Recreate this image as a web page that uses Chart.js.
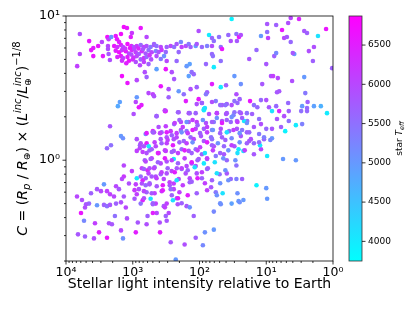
<!DOCTYPE html>
<html>
<head>
<meta charset="utf-8">
<script src="https://cdn.jsdelivr.net/npm/chart.js@4.4.1/dist/chart.umd.min.js"></script>
<style>
  html, body { margin: 0; padding: 0; background: #fff; }
</style>
</head>
<body>
<canvas id="myChart" width="416" height="312"></canvas>
<script>
// axis ticks
const xMajor = [10000, 1000, 100, 10, 1]
const xLabels = ['10⁴', '10³', '10²', '10¹', '10⁰']
const yMajor = [1, 10]
const yLabels = ['10⁰', '10¹']
const teffTicks = [4000, 4500, 5000, 5500, 6000, 6500]
const teffMin = 3750
const teffMax = 6870

// points: [light intensity, C, star Teff]
const topBand = [
  [6200,7.5,5900],[6200,5.45,6000],[6800,4.49,6100],[4500,6.7,6600],[3900,6.0,6500],[4200,5.8,6600],[3900,5.27,6600],[3300,6.2,6600],[2900,6.6,6000],[2800,5.27,6500],
  [2400,7.15,6700],[2300,6.9,6100],[2100,7.15,5000],[2350,6.2,6000],[2350,5.9,5900],[2300,5.45,5800],[2200,4.95,5900],[1800,7.26,6600],[1720,6.9,6600],[1360,8.38,6700],
  [1220,8.25,6600],[1500,7.5,6700],[1030,7.62,6200],[1070,7.15,6500],[760,8.25,6600],[620,7.15,6000],
  [1900,6.2,6600],[1700,6.1,6300],[1500,6.3,6500],[1400,6.1,6000],[1200,6.4,6700],[1050,6.2,6400],[970,6.1,5800],[870,6.2,6200],[760,6.3,5600],[680,6.1,6100],[620,6.2,5900],[540,6.1,5400],[480,6.3,6000],
  [1800,5.75,6500],[1600,5.6,6700],[1450,5.8,6200],[1270,5.7,6600],[1140,5.5,6000],[1030,5.8,6400],[900,5.6,6100],[810,5.45,5700],[730,5.7,6300],[640,5.5,5800],[580,5.8,5500],[520,5.6,6000],
  [1700,5.2,6400],[1500,5.27,6600],[1400,5.1,6100],[1200,5.2,6500],[1050,5.4,5900],[970,5.15,6300],[870,5.27,6000],[760,5.0,5700],[680,5.1,6200],[620,5.2,5600],[530,5.0,5900],
  [1450,4.9,6300],[1140,4.9,6600],[900,4.8,5900],[680,4.8,6100],[580,4.64,5700],
  [1600,6.6,6500],[1300,5.95,6200],[1100,6.0,6600],[950,5.9,6000],[820,5.95,6400],[700,5.9,5800],[1250,4.7,6500],[1000,5.0,6300],[780,4.55,6000],[560,5.35,6200]
]

const upperScatter = [
  [1450,3.83,6700],[1200,3.43,6600],[870,3.59,6000],[660,4.08,5900],[620,3.77,5700],[580,2.92,6000],[500,2.87,6100],[870,2.73,5000],[900,2.53,6000],[810,2.33,6600],
  [1560,2.53,4900],[1670,2.37,4800],[970,2.09,5900],[2190,1.72,5800],[1500,1.47,5000],[1400,1.42,5100],[870,1.40,5900],[640,1.52,5100],[500,1.59,6500],
  [33,9.53,3900],[103,7.87,5900],[72,7.38,4000],[65,7.04,5600],[51,7.15,5500],[37,7.38,5600],[34,6.71,5900],[28,7.5,5500],[25.6,7.15,6600],[24,7.38,5900],[27.5,6.71,5800],
  [480,6.39,5700],[440,6.19,5500],[380,6.1,6000],[450,5.71,5300],[410,5.62,5800],[370,5.81,6200],[320,5.62,5600],[340,5.27,5100],[440,5.27,5900],[380,5.03,5400],
  [310,6.1,5700],[270,6.19,6000],[240,6.1,5500],[220,6.39,5800],[190,6.6,5200],[185,6.1,6100],[205,5.62,5600],[160,6.19,5900],[145,6.39,5400],[136,6.1,5700],
  [114,6.19,5000],[110,6.39,5800],[92,6.1,5600],[77,6.19,5300],[65,6.19,5900],[48,6.1,5500],
  [310,4.87,6000],[320,4.28,6600],[440,4.28,4900],[220,4.87,5600],[156,4.49,5000],[140,4.64,4900],[131,4.08,5500],[122,3.95,5600],[145,3.83,4900],[80,4.64,5600],
  [61,4.42,4000],[48,4.87,5500],[46,5.9,6600],[65,5.45,5600],[63,5.27,5500],[61,6.71,5500],[30,3.83,5000],[24,3.37,5100],[260,4.08,5900],[240,3.65,5800],
  [380,3.26,6600],[290,3.11,5900],[205,3.01,5000],[172,2.87,5500],[136,3.11,5900],[110,3.21,5700],[77,2.96,5700],[80,2.87,5400],[65,3.37,6500],[48,3.21,4000],
  [40,3.31,5700],[57,2.57,5400],[46,2.41,5800],[39,2.45,5700],[30,2.57,5500],[28,2.87,5900],[25,2.65,5700],[103,2.65,6600],[110,2.45,5900],[92,2.49,5700],
  [86,2.26,4000],[160,2.57,6500],[205,2.15,5800],[320,2.19,6500],[290,2.73,5700],[480,2.78,5900]
]

const rightScatter = [
  [4.3,9.68,6000],[3.23,9.53,6400],[9.7,8.8,5800],[7.1,8.66,5700],[4.7,8.94,5900],[5.8,8.0,6600],[2.7,7.87,5800],[2.45,7.62,5700],[1.27,8.12,6600],[12,7.26,5000],
  [9.7,7.74,5500],[9.4,7.04,6100],[5.4,7.04,6000],[4.9,7.15,5800],[4.3,6.6,5600],[1.68,7.26,4100],[14,5.81,5600],[7.6,5.27,5700],[7.1,5.53,5200],[3.8,5.45,5000],
  [2.3,5.71,5900],[1.93,6.1,5900],[2.0,4.87,5700],[18,5.03,5800],[10,4.64,5800],[8.5,3.83,5900],[7.9,3.83,6100],[4.1,3.54,5900],[2.7,3.77,5000],[11.5,3.37,5800],
  [6.9,2.96,5800],[6.4,3.01,5800],[2.6,2.92,5400],[1.03,4.35,5700],[17.5,2.57,6600],[12,2.61,5600],[10,2.61,5900],[4.7,2.49,5600],[2.4,2.53,5700],[2.9,2.37,5000],
  [1.93,2.37,4900],[1.52,2.37,4700],[1.23,2.12,4000],[2.45,2.19,5600],[3.0,2.19,5500],[4.6,2.19,5700],[6.4,2.19,6400],[8.2,2.19,4100],[15.3,2.41,5500],[13.6,2.33,5600],
  [9.1,2.33,5800],[7.1,2.37,5600],[5.4,2.02,5900],[6.9,1.93,5800],[4.6,1.87,5500],[3.6,1.75,4000],[2.9,1.78,5300],[6.0,1.70,5700],[5.2,1.59,3900],[8.2,1.65,5800],
  [10,1.65,5600],[12,1.78,5900],[12.8,1.93,5500],[16.3,2.09,5700],[19.3,1.87,5500],[15.3,1.70,5800],[18,1.56,5600],[12.8,1.52,5400],[10.8,1.40,5700],[17,1.40,5900],
  [6.7,3.71,6000],[4.0,5.53,5800],[2.45,2.30,5600],
  [3.6,1.0,5000],[5.6,1.02,5000],[14,0.67,3900],[10,0.64,5000],[9.7,0.54,5000],[15.3,1.10,5800],[9.7,1.07,4000],[12,1.19,6000],[12.4,1.27,4000],[12.8,1.33,5500],
  [15.3,1.31,5600],[18,1.36,5800],[8.2,1.42,5000],[8.7,1.38,5200],[10.8,1.44,5300]
]

const mainCluster = [
  [440,2.02,5800],[330,2.19,6500],[145,2.12,5900],[114,2.12,5700],[86,2.22,4000],[72,2.09,5900],[55,2.12,5600],[40,2.09,5800],[30,2.15,5500],[24,2.12,5900],
  [21.5,1.87,4000],[27.5,1.87,5700],[34,1.84,5600],[46,1.87,5900],[61,1.84,5400],[80,1.81,5900],[110,1.84,6100],[145,1.84,5800],[190,1.84,6000],[240,1.78,5600],
  [320,1.72,6100],[410,1.70,5900],[480,1.56,6000],[370,1.56,5700],[270,1.59,6200],[190,1.62,5800],[156,1.59,5500],[114,1.65,6000],[86,1.65,5700],[65,1.62,5300],
  [48,1.65,5900],[36,1.59,5500],[27.5,1.65,5800],[23,1.62,5400],[310,1.44,5900],[220,1.44,6000],[136,1.44,5600],[95,1.47,5800],[67,1.44,5500],[46,1.44,5700],
  [33,1.42,5200],[24,1.47,5800],
  [390,0.316,6500],[270,0.27,5800],[167,0.26,5900],[227,0.205,5000],[114,0.29,5700],[89,0.257,5200],[83,0.316,5100],[61,0.33,5000],[122,0.41,5700],[156,0.48,5800],
  [61,0.44,5200],[48,0.495,5100],[33,0.50,4900],[26,0.52,5000],[22,0.53,5000],[45,0.59,4100],[57,0.60,5400],[67,0.65,5800],[92,0.75,5700],[77,0.87,5600],
  [86,0.95,4000],[114,0.91,5800],[110,0.81,5900],[140,0.75,6000],[131,0.71,5700],[205,0.74,5900],[243,0.69,6100],[279,0.67,5800],[243,0.63,6000],[219,0.545,5700],
  [212,0.495,5900],[310,0.50,6100],[343,0.48,5800],[289,0.43,6000],[320,0.41,5700],[310,0.38,5800],[452,0.50,6100],[437,0.43,6000],[394,0.37,5900],[270,0.63,5600],
  [368,0.61,6200],[437,0.66,5800],[343,0.74,6000],[381,0.80,5700],[310,0.81,5900],[261,0.84,6100],[219,0.88,5800],[185,0.87,5500],[161,0.81,5900],[156,0.91,6000],
  [131,0.95,5700],[103,1.02,5800],[77,1.02,5600],[57,1.07,5400],[43,1.10,5800],[39,1.0,5600],[50,0.80,5500],[39,0.81,5800],[34,0.74,5600],[28,0.92,5500],
  [28,0.74,5300],[23,0.74,5700],[26,1.19,4000],[22,1.16,4100],[30,1.25,5800],[43,1.25,5600],[61,1.25,5900],[65,1.40,5500],[86,1.36,5800],[122,1.40,6000],
  [172,1.36,5700],[243,1.40,5900],[310,1.31,6100],[381,1.40,5800],[452,1.25,6000],[408,1.12,5900],[320,1.16,6200],[243,1.16,5800],[185,1.19,5600],[145,1.16,5900],
  [114,1.19,5500],[92,1.10,5700],[243,1.02,4000],[310,0.98,5900],[381,0.95,6000],[452,0.77,5900]
]

const denseCluster = [
  [740,2.41,6500],[330,2.22,6100],[440,2.02,5700],[210,2.15,5700],[140,2.12,5700],[92,2.49,5700],[83,2.30,4100],[65,2.53,5900],[49,2.41,5600],[39,2.12,5800],
  [31,2.05,5300],[25,2.15,5700],[19.5,2.12,5500],[55,2.12,6100],[41,2.41,5500],[33,2.41,5900],[27,2.49,5600],
  [235,1.81,6100],[200,1.90,5700],[178,1.70,6100],[156,1.84,5100],[127,1.90,6100],[107,1.75,5700],[89,1.90,5100],[77,1.70,6100],[65,1.84,5700],[55,1.96,5100],
  [46,1.81,6500],[39,1.90,5700],[33,1.99,5100],[27,1.84,6100],[23,1.96,5700],[19.5,1.81,5100],
  [620,1.54,6500],[500,1.56,5700],[390,1.54,6100],[310,1.56,6500],[260,1.49,5700],[220,1.54,6100],[185,1.56,5100],[150,1.54,6100],[127,1.62,6500],[98,1.54,5700],
  [77,1.56,6100],[63,1.62,5100],[49,1.54,5700],[39,1.56,4100],[31,1.62,6100],[25,1.54,5100],[19.5,1.56,5700],
  [780,1.27,5700],[620,1.31,6500],[470,1.33,6100],[370,1.31,5700],[300,1.38,6100],[250,1.27,6500],[200,1.33,5700],[156,1.31,6100],[127,1.33,5100],[98,1.23,6100],
  [77,1.33,6500],[65,1.27,5700],[53,1.31,5100],[41,1.38,5700],[33,1.27,6100],[25,1.33,5100],[19.5,1.31,5700],
  [710,1.14,6100],[560,1.17,5700],[420,1.12,6500],[330,1.17,6100],[260,1.14,5700],[210,1.12,6100],[167,1.17,6500],[131,1.12,5700],[107,1.17,6100],[83,1.12,4100],
  [63,1.17,6100],[49,1.12,5700],[37,1.17,5100],[27,1.12,4100],[21,1.17,6100],
  [660,1.0,5700],[520,1.03,6100],[420,0.968,5700],[330,1.03,6500],[260,1.0,6100],[210,0.953,5700],[167,1.03,6100],[131,0.968,6500],[107,1.0,5700],[77,1.03,6100],
  [59,0.968,4100],[44,1.03,5100],[29,1.0,5100],
  [730,0.88,6100],[600,0.852,6500],[470,0.894,5700],[370,0.825,6100],[300,0.88,5700],[235,0.825,6500],[185,0.88,6100],[150,0.852,5700],[118,0.894,4100],[92,0.825,6100],
  [75,0.88,5700],[55,0.812,4100],[41,0.852,5100],
  [710,0.726,6500],[560,0.692,5700],[440,0.75,6100],[355,0.671,6500],[280,0.704,6100],[220,0.726,4100],[178,0.671,6100],[140,0.704,5700],[107,0.75,6500],[83,0.692,6100],
  [65,0.726,5700],[49,0.692,5100],[37,0.726,5100],
  [620,0.60,5700],[470,0.59,6100],[355,0.619,6500],[260,0.571,5700],[200,0.60,6100],[150,0.571,6500],[110,0.59,5700],[77,0.619,6100],[55,0.571,5100],[27,0.59,5100],
  [710,0.527,6500],[500,0.503,5700],[330,0.471,6100],[250,0.527,4100],[210,0.545,6500],[185,0.503,5700],[140,0.471,5100],[49,0.503,5100],[25,0.511,5100]
]

const lowerLeft = [
  [2430,1.21,5600],[2120,1.27,5500],[760,1.31,5900],[785,1.21,6000],[680,1.25,5800],[576,1.25,4000],[870,1.16,6100],[620,1.12,5900],[520,1.19,5700],[640,0.98,6000],
  [540,1.02,5800],[1360,0.92,6000],[1030,0.84,6100],[680,0.87,5700],[560,0.88,5900],[480,0.88,6000],[1360,0.77,6200],[1450,0.74,6000],[1140,0.69,5900],[870,0.75,4000],
  [760,0.77,5600],[640,0.75,5800],[580,0.81,6000],[520,0.77,5800],[900,0.68,6100],[730,0.69,5900],[640,0.67,5600],[560,0.68,5800],[810,0.63,5900],[940,0.62,6200],
  [680,0.61,6000],[520,0.59,5800],[870,0.58,6100],[680,0.545,5900],[940,0.54,5800],[760,0.50,5500],[540,0.54,4100],[500,0.495,5700],[2700,0.68,5000],[1780,0.66,6000],
  [1610,0.63,5800],[2430,0.61,6100],[3430,0.63,5800],[2990,0.61,6000],[4220,0.59,5700],[6840,0.56,6000],[5760,0.53,5900],[4520,0.50,5600],[5010,0.495,5800],[5190,0.47,5900],
  [3430,0.487,5000],[2700,0.49,5700],[2430,0.48,5500],[2190,0.49,5800],[2190,0.58,6100],[1910,0.56,6000],[1780,0.50,5700],[1500,0.51,5900],[1270,0.47,6000],[1360,0.56,5800],
  [5960,0.43,6600],[5370,0.38,5200],[3680,0.365,6100],[2270,0.365,5900],[2050,0.36,5800],[1850,0.41,5500],[1220,0.395,5900],[1500,0.326,6000],[3200,0.316,6500],[6610,0.306,5800],
  [5190,0.296,5700],[3810,0.287,5900],[2430,0.29,6600],[1400,0.287,5100],[900,0.316,6500],[840,0.37,5800],[620,0.36,5900],[600,0.41,5700],[500,0.43,6500]
]

const font = '"DejaVu Sans", sans-serif'

// matplotlib "cool" colormap
const coolColor = (t) => {
  let f = (t - teffMin) / (teffMax - teffMin)
  f = Math.max(0, Math.min(1, f))
  return 'rgb(' + Math.round(255 * f) + ',' + Math.round(255 * (1 - f)) + ',255)'
}

const allPoints = [].concat(topBand, upperScatter, rightScatter, mainCluster, denseCluster, lowerLeft)

// log minor tick positions (no labels)
const xMinor = []
for (let e = 0; e < 4; e++) for (let k = 2; k < 10; k++) xMinor.push(k * Math.pow(10, e))
const yMinor = [0.2, 0.3, 0.4, 0.5, 0.6, 0.7, 0.8, 0.9, 2, 3, 4, 5, 6, 7, 8, 9]

// rich text: [text, size, italic, dy, stack]
const yTitle = [
  ['C', 14, true, 0], [' = (', 14, false, 0], ['R', 14, true, 0], ['p', 10, true, 3],
  [' / ', 14, false, 0], ['R', 14, true, 0], ['⊕', 9.5, false, 3], [') × (', 14, false, 0],
  ['L', 14, true, 0], ['inc', 10, true, -6], ['/', 14, false, 0], ['L', 14, true, 0],
  ['inc', 10, true, -6, true], ['⊕', 9.5, false, 4], [')', 14, false, 0], ['−1/8', 10, false, -7]
]
const cbarTitle = [['star ', 9, false, 0], ['T', 9, true, 0], ['eff', 6.5, true, 2]]

function richWidth(ctx, parts) {
  let w = 0, stackW = 0
  parts.forEach(p => {
    ctx.font = (p[2] ? 'italic ' : '') + p[1] + 'px ' + font
    const m = ctx.measureText(p[0]).width
    if (p[4]) { stackW = m } else { w += Math.max(m, stackW); stackW = 0 }
  })
  return w
}

function drawRich(ctx, parts, x, y) {
  let stackX = null, stackW = 0
  parts.forEach(p => {
    ctx.font = (p[2] ? 'italic ' : '') + p[1] + 'px ' + font
    const m = ctx.measureText(p[0]).width
    if (p[4]) {
      ctx.fillText(p[0], x, y + p[3])
      stackW = m
      stackX = x
    } else if (stackX !== null) {
      ctx.fillText(p[0], stackX, y + p[3])
      x = stackX + Math.max(m, stackW)
      stackX = null
    } else {
      ctx.fillText(p[0], x, y + p[3])
      x += m
    }
  })
}

const decorations = {
  id: 'decorations',
  afterDraw(chart) {
    const { ctx, chartArea: a, scales } = chart
    ctx.save()
    ctx.strokeStyle = '#000'
    ctx.lineWidth = 0.8
    ctx.strokeRect(a.left, a.top, a.right - a.left, a.bottom - a.top)

    ctx.beginPath()
    xMajor.forEach(v => { const p = scales.x.getPixelForValue(v); ctx.moveTo(p, a.bottom); ctx.lineTo(p, a.bottom + 3.5) })
    xMinor.forEach(v => { const p = scales.x.getPixelForValue(v); ctx.moveTo(p, a.bottom); ctx.lineTo(p, a.bottom + 2) })
    yMajor.forEach(v => { const p = scales.y.getPixelForValue(v); ctx.moveTo(a.left, p); ctx.lineTo(a.left - 3.5, p) })
    yMinor.forEach(v => { const p = scales.y.getPixelForValue(v); ctx.moveTo(a.left, p); ctx.lineTo(a.left - 2, p) })
    ctx.stroke()

    // colour bar
    const s = scales.teff
    const x0 = a.right + 16, w = 13
    const yTop = s.getPixelForValue(teffMax), yBot = s.getPixelForValue(teffMin)
    const g = ctx.createLinearGradient(0, yBot, 0, yTop)
    g.addColorStop(0, coolColor(teffMin))
    g.addColorStop(1, coolColor(teffMax))
    ctx.fillStyle = g
    ctx.fillRect(x0, yTop, w, yBot - yTop)
    ctx.strokeStyle = '#333'
    ctx.strokeRect(x0, yTop, w, yBot - yTop)
    ctx.beginPath()
    teffTicks.forEach(v => { const p = s.getPixelForValue(v); ctx.moveTo(x0 + w, p); ctx.lineTo(x0 + w + 3.5, p) })
    ctx.strokeStyle = '#000'
    ctx.stroke()

    ctx.fillStyle = '#000'
    ctx.textBaseline = 'alphabetic'
    // x title
    ctx.font = '14px ' + font
    ctx.textAlign = 'center'
    ctx.fillText('Stellar light intensity relative to Earth', (a.left + a.right) / 2, 288)
    ctx.textAlign = 'left'

    // y title (rotated)
    ctx.save()
    ctx.translate(27, (a.top + a.bottom) / 2)
    ctx.rotate(-Math.PI / 2)
    drawRich(ctx, yTitle, -richWidth(ctx, yTitle) / 2, 0)
    ctx.restore()

    // colour bar title
    ctx.save()
    ctx.translate(402, (yTop + yBot) / 2)
    ctx.rotate(-Math.PI / 2)
    drawRich(ctx, cbarTitle, -richWidth(ctx, cbarTitle) / 2, 0)
    ctx.restore()
    ctx.restore()
  }
}

let ctx = document.getElementById('myChart')
let myChart = new Chart(ctx, {
  type: 'scatter',
  data: {
    datasets: [{
      data: allPoints.map(p => ({ x: p[0], y: p[1] })),
      backgroundColor: allPoints.map(p => coolColor(p[2])),
      pointRadius: 2.3,
      pointBorderWidth: 0,
      borderWidth: 0
    }]
  },
  options: {
    responsive: false,
    animation: false,
    events: [],
    layout: { padding: { top: 16, left: 0, right: 0, bottom: 0 } },
    plugins: { legend: { display: false }, tooltip: { enabled: false } },
    scales: {
      x: {
        type: 'logarithmic',
        position: 'bottom',
        reverse: true,
        min: 1,
        max: 10000,
        grid: { display: false, drawTicks: false },
        border: { display: false },
        afterBuildTicks: s => { s.ticks = xMajor.map(v => ({ value: v })) },
        afterFit: s => { s.height = 51 },
        ticks: {
          autoSkip: false,
          maxRotation: 0,
          padding: 4,
          color: '#000',
          font: { family: font, size: 12.5 },
          callback: v => { const i = xMajor.indexOf(v); return i < 0 ? '' : xLabels[i] }
        }
      },
      y: {
        type: 'logarithmic',
        position: 'left',
        min: 0.2,
        max: 10,
        grid: { display: false, drawTicks: false },
        border: { display: false },
        afterBuildTicks: s => { s.ticks = yMajor.map(v => ({ value: v })) },
        afterFit: s => { s.width = 66 },
        ticks: {
          autoSkip: false,
          padding: 6,
          color: '#000',
          font: { family: font, size: 12.5 },
          callback: v => { const i = yMajor.indexOf(v); return i < 0 ? '' : yLabels[i] }
        }
      },
      teff: {
        type: 'linear',
        position: 'right',
        min: teffMin,
        max: teffMax,
        grid: { display: false, drawTicks: true, tickLength: 32 },
        border: { display: false },
        afterBuildTicks: s => { s.ticks = teffTicks.map(v => ({ value: v })) },
        afterFit: s => { s.width = 83 },
        ticks: {
          padding: 3,
          color: '#000',
          font: { family: font, size: 9 },
          callback: v => String(v)
        }
      }
    }
  },
  plugins: [decorations]
})
</script>
</body>
</html>
